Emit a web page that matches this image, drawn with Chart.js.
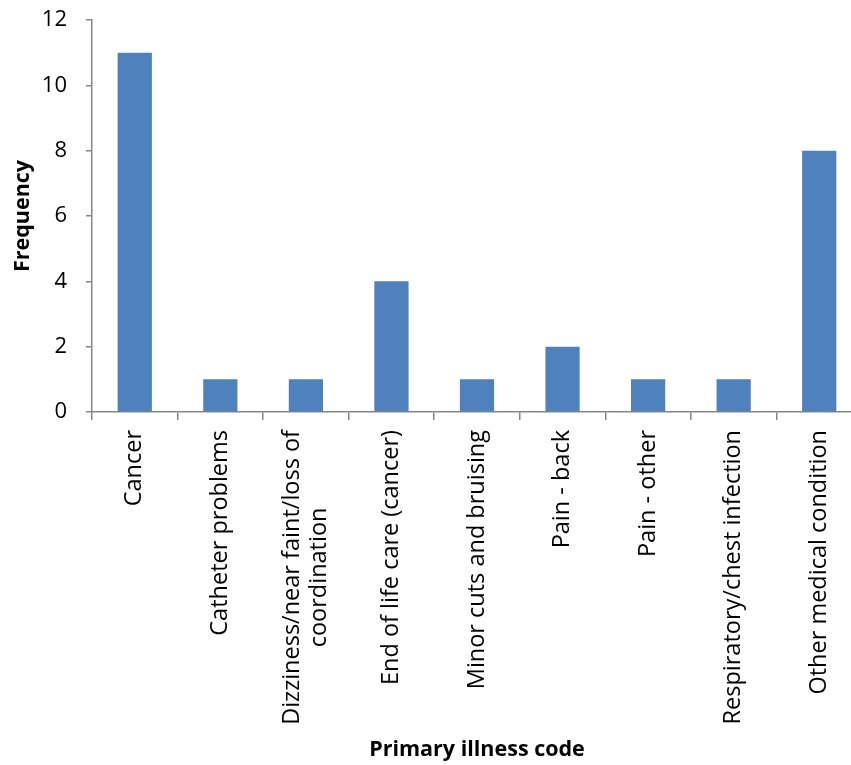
<!DOCTYPE html>
<html>
<head>
<meta charset="utf-8">
<script src="https://cdn.jsdelivr.net/npm/chart.js@4"></script>
<style>
  html, body { margin: 0; padding: 0; background: #fff; overflow: hidden; }
  #wrap { width: 870px; height: 765px; position: relative; }
</style>
</head>
<body>
<div id="wrap"><canvas id="chart"></canvas></div>
<script>
const categories = [
  'Cancer',
  'Catheter problems',
  ['Dizziness/near faint/loss of', 'coordination'],
  'End of life care (cancer)',
  'Minor cuts and bruising',
  'Pain - back',
  'Pain - other',
  'Respiratory/chest infection',
  'Other medical condition'
];
const frequency = [11, 1, 1, 4, 1, 2, 1, 1, 8];
const yTicks = [0, 2, 4, 6, 8, 10, 12];

const axisGrey = '#868686';
const fontFamily = "'Open Sans', 'Noto Sans', sans-serif";
const labelSize = 23.5;

// chart.js right-aligns every line of a rotated label; the original centres
// the shorter lines under the longest one, so the labels are drawn here
const centredLabels = {
  id: 'centredLabels',
  afterDraw(chart) {
    const scale = chart.scales.x;
    const c = chart.ctx;
    const opts = scale.options;
    const top = scale.top + opts.grid.tickLength + opts.ticks.padding;
    const lh = labelSize * 1.15;
    c.save();
    c.font = `${labelSize}px ${fontFamily}`;
    c.fillStyle = '#000';
    c.textBaseline = 'middle';
    c.textAlign = 'center';
    scale.ticks.forEach((t, i) => {
      const lines = [].concat(chart.data.labels[i]);
      const widths = lines.map(l => c.measureText(l).width);
      const maxW = Math.max(...widths);
      const x = scale.getPixelForTick(i);
      lines.forEach((line, j) => {
        c.save();
        c.translate(x - (lines.length - 1) * lh / 2 + j * lh, top + maxW / 2);
        c.rotate(-Math.PI / 2);
        c.fillText(line, 0, 0);
        c.restore();
      });
    });
    c.restore();
  }
};

const ctx = document.getElementById('chart').getContext('2d');
new Chart(ctx, {
  type: 'bar',
  data: {
    labels: categories,
    datasets: [{
      label: 'Frequency',
      data: frequency,
      backgroundColor: '#4F81BD',
      borderWidth: 0,
      barPercentage: 0.4,
      categoryPercentage: 1
    }]
  },
  options: {
    responsive: true,
    maintainAspectRatio: false,
    animation: false,
    layout: { padding: { top: 20, right: 8, bottom: 0, left: 10 } },
    plugins: {
      legend: { display: false },
      tooltip: { enabled: false }
    },
    scales: {
      x: {
        afterFit: axis => {
          axis.height = 765 - 412;
          axis.paddingLeft = 0;
          axis.paddingRight = 0;
        },
        grid: {
          display: true,
          drawOnChartArea: false,
          drawTicks: true,
          tickLength: 8,
          color: axisGrey,
          lineWidth: 1.5,
          offset: true
        },
        border: { display: true, color: axisGrey, width: 1.5 },
        ticks: {
          color: 'rgba(0,0,0,0)',
          font: { family: fontFamily, size: labelSize },
          minRotation: 90,
          maxRotation: 90,
          autoSkip: false,
          padding: 10
        },
        title: {
          display: true,
          text: 'Primary illness code',
          color: '#000',
          font: { family: fontFamily, size: 21.5, weight: 'bold' },
          padding: { top: 4, bottom: 2 }
        }
      },
      y: {
        min: 0,
        max: 12,
        afterBuildTicks: axis => { axis.ticks = yTicks.map(v => ({ value: v })); },
        afterFit: axis => {
          axis.width = 92 - 10;
          axis.paddingTop = 0;
          axis.paddingBottom = 0;
        },
        grid: {
          display: true,
          drawOnChartArea: false,
          drawTicks: true,
          tickLength: 6,
          color: axisGrey,
          lineWidth: 1.5
        },
        border: { display: true, color: axisGrey, width: 1.5 },
        ticks: {
          color: '#000',
          font: { family: fontFamily, size: 22 },
          padding: 19
        },
        title: {
          display: true,
          text: 'Frequency',
          color: '#000',
          font: { family: fontFamily, size: 21.5, weight: 'bold' },
          padding: { top: 0, bottom: 6 }
        }
      }
    }
  },
  plugins: [centredLabels]
});
</script>
</body>
</html>
